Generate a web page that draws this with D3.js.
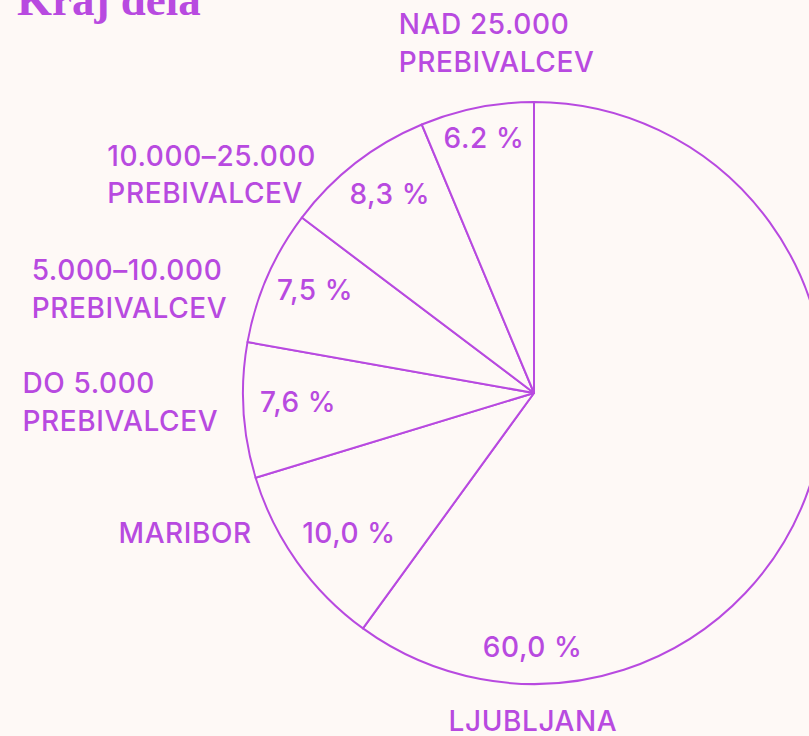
<!DOCTYPE html>
<html>
<head>
<meta charset="utf-8">
<script src="https://cdn.jsdelivr.net/npm/d3@7"></script>
<style>
  html, body { margin: 0; padding: 0; background: #fef9f6; overflow: hidden; }
  svg { display: block; }
</style>
</head>
<body>
<svg id="chart" width="809" height="736"></svg>
<script>
// ---- data ----
const categories = ["LJUBLJANA", "MARIBOR", "DO 5.000\nPREBIVALCEV", "5.000–10.000\nPREBIVALCEV", "10.000–25.000\nPREBIVALCEV", "NAD 25.000\nPREBIVALCEV"];
const values = [60.0, 10.3, 7.5, 7.5, 8.4, 6.3];
const valueLabels = ["60,0 %", "10,0 %", "7,6 %", "7,5 %", "8,3 %", "6.2 %"];
const title = "Kraj dela";

// ---- layout / style ----
const W = 809, H = 736;
const cx = 534, cy = 393, R = 291;
const purple = "#b84ae0";
const bg = "#fef9f6";
const fontFamily = "Inter, 'Noto Sans', sans-serif";
const fontSize = 28;
const fontWeight = 500;
const letterSpacing = 0.6;
const lineH = 37.5;
// inner label placement: polar (deg clockwise from top, px from centre) of label centre
const innerPolar = [[180.3, 254], [232.9, 232], [267.8, 236], [295.2, 242], [324.1, 246], [348.9, 260]];
// outer label placement: polar (deg, px from centre) of block reference point, and horizontal block anchor (0 left .. 1 right)
const outerPolar = [[180.2, 328, 0.5], [243.6, 315, 1], [268.4, 316, 1], [288.8, 324, 1], [315.1, 309, 1], [353.9, 352, 0.5]];

const svg = d3.select("#chart");
svg.append("rect").attr("width", W).attr("height", H).attr("fill", bg);

const data = categories.map((c, i) => ({ cat: c, value: values[i], label: valueLabels[i], i }));
const pie = d3.pie().sort(null).value(d => d.value);
const arcs = pie(data);
const arc = d3.arc().innerRadius(0).outerRadius(R);

const g = svg.append("g").attr("transform", `translate(${cx},${cy})`);
g.selectAll("path.slice").data(arcs).join("path")
  .attr("class", "slice")
  .attr("d", arc)
  .attr("fill", bg)
  .attr("stroke", purple)
  .attr("stroke-width", 2)
  .attr("stroke-linejoin", "round");

const capH = fontSize * 0.727;
const polar = (deg, r) => { const a = deg * Math.PI / 180; return [r * Math.sin(a), -r * Math.cos(a)]; };

// inner value labels
g.selectAll("text.val").data(arcs).join("text")
  .attr("class", "val")
  .attr("text-anchor", "middle")
  .attr("font-family", fontFamily)
  .attr("font-size", fontSize)
  .attr("font-weight", fontWeight)
  .attr("letter-spacing", letterSpacing)
  .attr("fill", purple)
  .attr("x", d => polar(...innerPolar[d.data.i])[0])
  .attr("y", d => polar(...innerPolar[d.data.i])[1] + capH / 2)
  .text(d => d.data.label);

// outer category labels
data.forEach((d, i) => {
  const [deg, rad, anch] = outerPolar[i];
  const [px, py] = polar(deg, rad);
  const lines = d.cat.split("\n");
  const t = g.append("text")
    .attr("font-family", fontFamily)
    .attr("font-size", fontSize)
    .attr("font-weight", fontWeight)
    .attr("letter-spacing", letterSpacing)
    .attr("fill", purple);
  lines.forEach((ln, j) => t.append("tspan").attr("x", 0).attr("dy", j === 0 ? 0 : lineH).text(ln));
  let bw = 0;
  t.selectAll("tspan").each(function() { bw = Math.max(bw, this.getComputedTextLength()); });
  const blockH = capH + (lines.length - 1) * lineH;
  const x0 = px - anch * bw;
  const y0 = py - blockH / 2 + capH;
  if (anch === 0.5 && lines.length === 1) {
    t.attr("text-anchor", "middle");
    t.selectAll("tspan").attr("x", px);
  } else {
    t.selectAll("tspan").attr("x", x0);
  }
  t.attr("y", y0);
  t.select("tspan").attr("y", y0);
});

// title
svg.append("text")
  .attr("x", 17).attr("y", 15)
  .attr("font-family", "'Liberation Serif', 'DejaVu Serif', serif")
  .attr("font-weight", "bold")
  .attr("font-size", 45)
  .attr("fill", purple)
  .text(title);
</script>
</body>
</html>
